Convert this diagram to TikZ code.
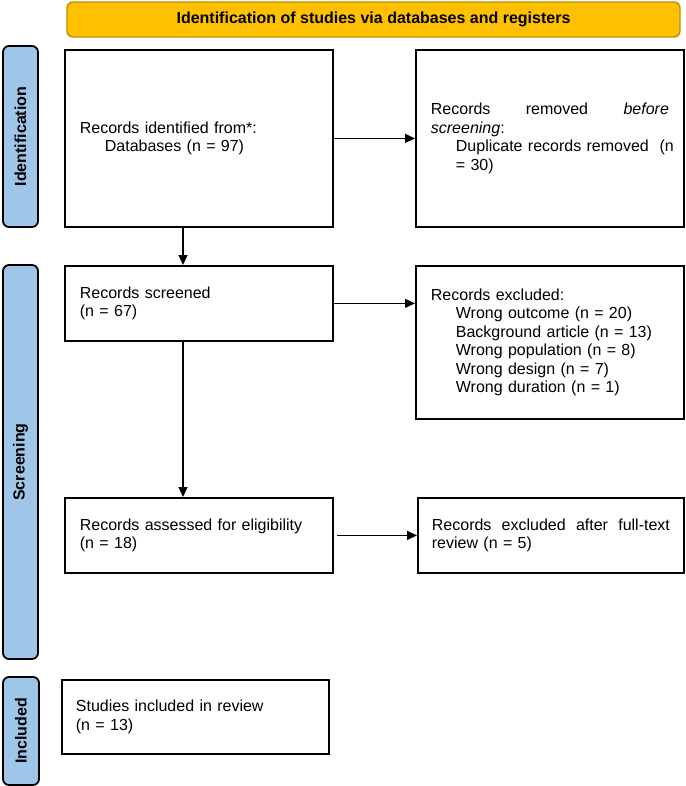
\documentclass[tikz,border=0pt]{standalone}
\usepackage{fontspec}
\setmainfont{Liberation Sans}
\usetikzlibrary{arrows.meta}
\definecolor{hdrfill}{HTML}{FFC000}
\definecolor{hdrdraw}{HTML}{BF9000}
\definecolor{sidefill}{HTML}{9FC5E8}
\newcommand{\jline}[2]{\makebox[#1][s]{\spaceskip=0.278em plus 1fil\relax #2}}
\begin{document}
\begin{tikzpicture}[x=1pt,y=-1pt,
  txt/.style={font=\fontsize{16}{18.4}\selectfont},
  box/.style={draw=black, line width=1.8pt, rectangle, anchor=north west, inner xsep=15pt, inner ysep=0pt, align=left, txt},
  side/.style={draw=black, line width=1.8pt, fill=sidefill, rounded corners=6pt, rotate=90, font=\fontsize{16}{18}\selectfont\bfseries, inner sep=0pt, minimum height=35pt},
  hdr/.style={draw=hdrdraw, line width=1.4pt, fill=hdrfill, rounded corners=6pt, font=\fontsize{16}{18}\selectfont\bfseries, minimum width=613pt, minimum height=35pt},
  arr/.style={-{Triangle[length=10pt,width=9pt]}, line width=1.2pt}
]
\useasboundingbox (0,0) rectangle (685,786);

\node[hdr] (hdr) at (373.5,19.5) {Identification of studies via databases and registers};

\node[side, minimum width=181pt] (sid) at (20.5,136.5) {Identification};
\node[side, minimum width=394pt] (sscr) at (20.5,462) {Screening};
\node[side, minimum width=108pt, minimum height=36pt] (sinc) at (21,731) {Included};

\node[box, minimum width=268pt, minimum height=177pt, text width=238pt] (b1) at (64,49)
  {Records identified from*:\\\hspace*{25pt}Databases (n = 97)};
\node[box, minimum width=268pt, minimum height=177pt, text width=238pt] (b2) at (415,49)
  {\jline{238pt}{Records removed \textit{before}}\\
   \textit{screening}:\\
   \hspace*{25pt}\makebox[213pt][s]{Duplicate records removed\hspace{0pt plus 1fil}\ \ (n}\\
   \hspace*{25pt}= 30)};
\node[box, minimum width=268pt, minimum height=75pt, text width=238pt] (b3) at (64,265)
  {Records screened\\(n = 67)};
\node[box, minimum width=268pt, minimum height=153pt, text width=238pt] (b4) at (415,265)
  {Records excluded:\\
   \hspace*{25pt}Wrong outcome (n = 20)\\
   \hspace*{25pt}Background article (n = 13)\\
   \hspace*{25pt}Wrong population (n = 8)\\
   \hspace*{25pt}Wrong design (n = 7)\\
   \hspace*{25pt}Wrong duration (n = 1)};
\node[box, minimum width=268pt, minimum height=75pt, text width=238pt] (b5) at (64,497)
  {Records assessed for eligibility\\(n = 18)};
\node[box, minimum width=266pt, minimum height=75pt, text width=238pt, inner xsep=14pt] (b6) at (417,497)
  {\jline{238pt}{Records excluded after full-text}\\review (n = 5)};
\node[box, minimum width=267pt, minimum height=74pt, text width=239pt, inner xsep=14pt] (b7) at (61,679)
  {Studies included in review\\(n = 13)};

\coordinate (xa) at (183,0);
\draw[arr] (b1.east) -- (b2.west);
\draw[arr] (b1.south -| xa) -- (b3.north -| xa);
\draw[arr] (b3.east) -- (b4.west |- b3.east);
\draw[arr] (b3.south -| xa) -- (b5.north -| xa);
\draw[arr, shorten <=3pt] (b5.east) -- (b6.west);
\end{tikzpicture}
\end{document}
